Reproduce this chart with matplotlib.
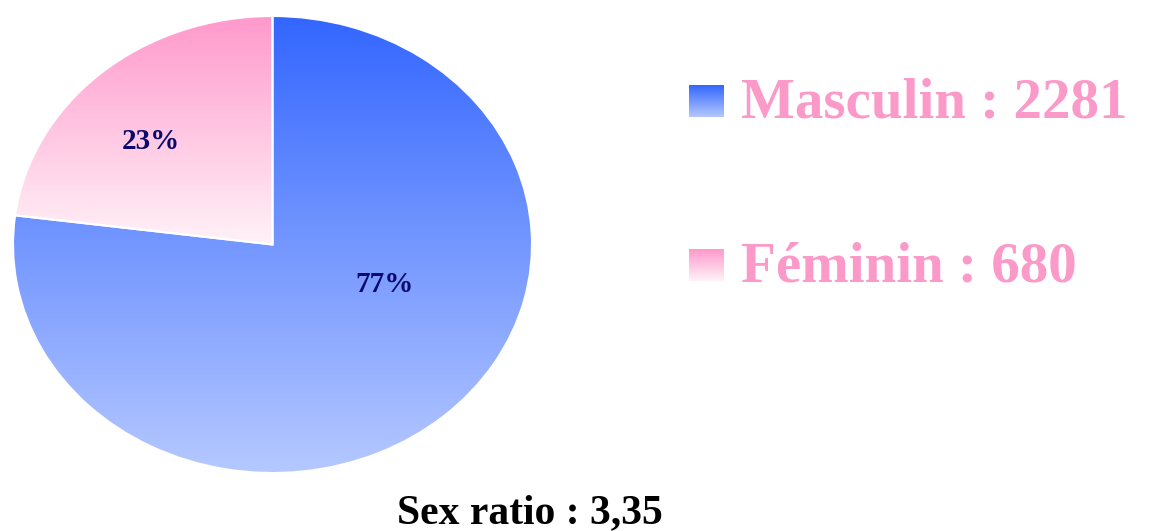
import numpy as np
import matplotlib.pyplot as plt
from matplotlib.colors import LinearSegmentedColormap

# data
sexes = ['Féminin', 'Masculin']
counts = [680, 2281]
pie_colors_top = ['#ff99cc', '#3366ff']
pie_colors_bot = ['#fff2f7', '#b5c8ff']

total = sum(counts)
ratio = counts[1] / counts[0]

fig = plt.figure(figsize=(11.49, 5.31), dpi=100)

# pie axes (ellipse, so aspect is left free)
ax = fig.add_axes([13/1149, (531-473)/531, 519/1149, 457/531])
wedges, _ = ax.pie(counts, startangle=90, counterclock=True, radius=1,
                   wedgeprops=dict(linewidth=1.5, edgecolor='white'))
ax.set_aspect('auto')
ax.set_xlim(-1, 1)
ax.set_ylim(-1, 1)
ax.axis('off')

grad = np.linspace(0, 1, 256).reshape(-1, 1)
extents = [(-1, 1, 0, 1), (-1, 1, -1, 1)]
for w, ctop, cbot, ext in zip(wedges, pie_colors_top, pie_colors_bot, extents):
    cmap = LinearSegmentedColormap.from_list('g', [cbot, ctop])
    im = ax.imshow(grad, extent=ext, origin='lower', cmap=cmap, aspect='auto', zorder=1)
    im.set_clip_path(w)
    w.set_facecolor('none')
    w.set_zorder(2)

# percentage labels
label_pos = [(-0.47, 0.45), (0.43, -0.175)]
for v, (x, y) in zip(counts, label_pos):
    ax.text(x, y, f"{round(100*v/total)}%", ha='center', va='center',
            fontsize=21, fontweight='bold', family='Liberation Serif',
            color='#0a0a6e', zorder=3)

# overlay for legend and caption, in pixel coords
ov = fig.add_axes([0, 0, 1, 1])
ov.set_xlim(0, 1149)
ov.set_ylim(531, 0)
ov.axis('off')

leg_y = [101, 265]
for name, v, ctop, cbot, y in zip(sexes[::-1], counts[::-1], pie_colors_top[::-1],
                                  pie_colors_bot[::-1], leg_y):
    cmap = LinearSegmentedColormap.from_list('g', [ctop, cbot])
    ov.imshow(grad, extent=(689, 724, y+16, y-16), cmap=cmap, aspect='auto')
    ov.text(741, y + 2, f"{name} : {v}", ha='left', va='center', fontsize=41,
            fontweight='bold', family='Liberation Serif', color='#fb9ac8')

ov.text(530, 513, f"Sex ratio : {ratio:.2f}".replace('.', ','), ha='center', va='center',
        fontsize=30, fontweight='bold', family='Liberation Serif', color='black')
ov.set_xlim(0, 1149)
ov.set_ylim(531, 0)

fig.savefig('out.png')
